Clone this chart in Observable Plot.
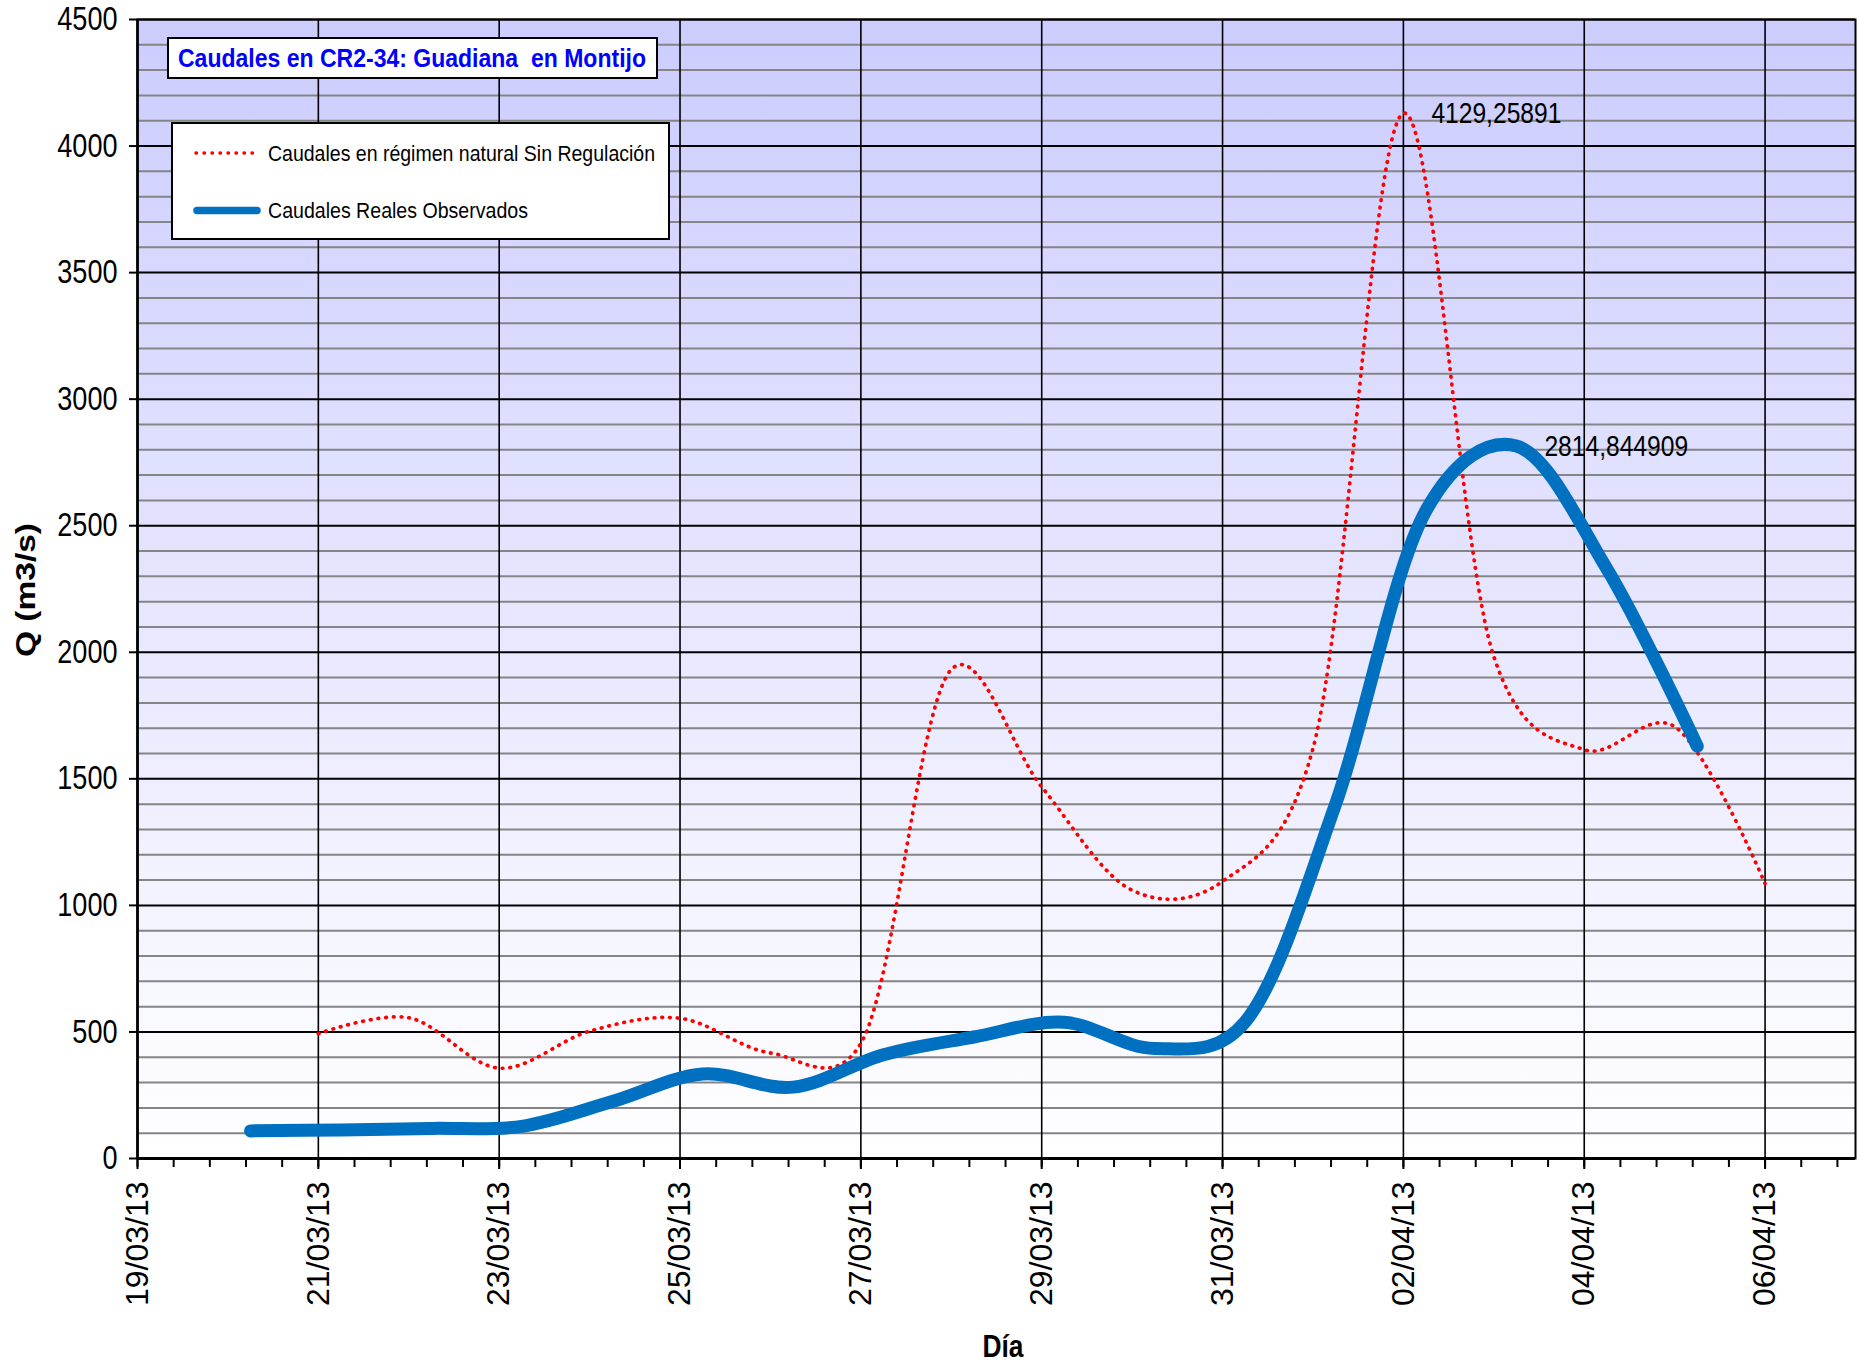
<!DOCTYPE html>
<html>
<head>
<meta charset="utf-8">
<script src="https://cdn.jsdelivr.net/npm/d3@7"></script>
<script src="https://cdn.jsdelivr.net/npm/@observablehq/plot@0.6"></script>
<style>
html, body { margin: 0; padding: 0; background: #ffffff; }
#chart { width: 1865px; height: 1369px; }
</style>
</head>
<body>
<div id="chart"></div>
<script>
// ---------------- DATA ----------------
const chartTitle = "Caudales en CR2-34: Guadiana  en Montijo";
const seriesNames = ["Caudales en régimen natural Sin Regulación", "Caudales Reales Observados"];
const yAxisTitle = "Q (m3/s)";
const xAxisTitle = "Día";

// Natural regime flows (daily, 00:00)
const naturalDays = [
  "2013-03-21T00:00", "2013-03-22T00:00", "2013-03-23T00:00", "2013-03-24T00:00",
  "2013-03-25T00:00", "2013-03-26T00:00", "2013-03-27T00:00", "2013-03-28T00:00",
  "2013-03-29T00:00", "2013-03-30T00:00", "2013-03-31T00:00", "2013-04-01T00:00",
  "2013-04-02T00:00", "2013-04-03T00:00", "2013-04-04T00:00", "2013-04-05T00:00",
  "2013-04-06T00:00"
];
const naturalQ = [493, 556, 357, 503, 554, 417, 455, 1932, 1468, 1060, 1095, 1620, 4129.25891, 1983, 1615, 1706, 1086];

// Observed flows (daily, 06:00)
const observedDays = [
  "2013-03-20T06:00", "2013-03-21T06:00", "2013-03-22T06:00", "2013-03-23T06:00",
  "2013-03-24T06:00", "2013-03-25T06:00", "2013-03-26T06:00", "2013-03-27T06:00",
  "2013-03-28T06:00", "2013-03-29T06:00", "2013-03-30T06:00", "2013-03-31T06:00",
  "2013-04-01T06:00", "2013-04-02T06:00", "2013-04-03T06:00", "2013-04-04T06:00",
  "2013-04-05T06:00"
];
const observedQ = [109, 113, 119, 127, 225, 334, 282, 410, 480, 538, 435, 540, 1400, 2560, 2814.844909, 2330, 1629];

// Axis ticks
const xDomain = ["2013-03-19T00:00", "2013-04-07T00:00"];
const xTickDays = [
  "2013-03-19T00:00", "2013-03-21T00:00", "2013-03-23T00:00", "2013-03-25T00:00",
  "2013-03-27T00:00", "2013-03-29T00:00", "2013-03-31T00:00", "2013-04-02T00:00",
  "2013-04-04T00:00", "2013-04-06T00:00"
];
const xMinorStepDays = 0.4;
const yTicks = [0, 500, 1000, 1500, 2000, 2500, 3000, 3500, 4000, 4500];
const yMinorStep = 100;

// ---------------- BUILD ----------------
const toDate = s => new Date(s + ":00Z");
const natural = naturalDays.map((d, i) => ({date: toDate(d), q: naturalQ[i]}));
const observed = observedDays.map((d, i) => ({date: toDate(d), q: observedQ[i]}));
const x0 = toDate(xDomain[0]), x1 = toDate(xDomain[1]);
const xTicks = xTickDays.map(toDate);
const xMinor = d3.range(0, (x1 - x0) / 864e5, xMinorStepDays).map(k => new Date(+x0 + k * 864e5));
const yMinor = d3.range(0, 4500 + 1, yMinorStep).filter(v => v % 500 !== 0);
const fmtDate = d3.utcFormat("%d/%m/%y");
const fmtComma = v => String(v).replace(".", ",");
const peaks = [
  natural.reduce((a, b) => (b.q > a.q ? b : a)),
  observed.reduce((a, b) => (b.q > a.q ? b : a))
];

const SANS = '"Liberation Sans", Arial, sans-serif';
const CURVE = "catmull-rom";
const TENSION = 0.15;

const svg = Plot.plot({
  width: 1865,
  height: 1369,
  marginLeft: 137,
  marginRight: 10,
  marginTop: 19,
  marginBottom: 211,
  style: {fontFamily: SANS, background: "transparent", overflow: "visible"},
  x: {type: "utc", domain: [x0, x1]},
  y: {domain: [0, 4500]},
  marks: [
    Plot.frame({fill: "url(#bgGrad)", stroke: "none"}),
    Plot.ruleY(yMinor, {stroke: "#858585", strokeWidth: 2}),
    Plot.ruleY(yTicks, {stroke: "#000000", strokeWidth: 2}),
    Plot.ruleX(xTicks, {stroke: "#000000", strokeWidth: 1.6}),
    Plot.frame({stroke: "#000000", strokeWidth: 2, fill: "none"}),
    Plot.ruleY([0], {stroke: "#000000", strokeWidth: 3}),
    Plot.ruleX([x0], {stroke: "#000000", strokeWidth: 2.5}),
    Plot.axisY({ticks: yTicks, tickSize: 8, tickPadding: 12, strokeWidth: 2,
      tickFormat: d3.format("d"), fontSize: 33, label: null}),
    Plot.axisX({ticks: xMinor, tickSize: 9, strokeWidth: 2, tickFormat: () => "", label: null}),
    Plot.axisX({ticks: xTicks, tickSize: 11, tickPadding: 12, strokeWidth: 2, tickRotate: -90,
      tickFormat: fmtDate, fontSize: 32, label: null}),
    Plot.line(natural, {x: "date", y: "q", stroke: "#FF0000", strokeWidth: 3.7,
      strokeDasharray: "0.7,7", strokeLinecap: "round", curve: CURVE, tension: TENSION}),
    Plot.line(observed, {x: "date", y: "q", stroke: "#0070C0", strokeWidth: 13,
      strokeLinecap: "round", strokeLinejoin: "round", curve: CURVE, tension: TENSION}),
    Plot.text(peaks, {x: "date", y: "q", text: d => fmtComma(d.q), dx: 28, textAnchor: "start",
      lineAnchor: "middle", fontSize: 30, fill: "#000000"})
  ]
});

const s = d3.select(svg);
const defs = s.insert("defs", ":first-child");
const grad = defs.append("linearGradient").attr("id", "bgGrad")
  .attr("x1", 0).attr("y1", 0).attr("x2", 0).attr("y2", 1);
grad.append("stop").attr("offset", 0).attr("stop-color", "#CCCCFF");
grad.append("stop").attr("offset", 1).attr("stop-color", "#FFFFFF");

const deco = s.append("g").attr("font-family", SANS).attr("text-anchor", "start");
// Title box
deco.append("rect").attr("x", 168).attr("y", 38).attr("width", 489).attr("height", 40)
  .attr("fill", "#ffffff").attr("stroke", "#000000").attr("stroke-width", 2);
deco.append("text").attr("x", 178).attr("y", 67).attr("text-anchor", "start")
  .attr("font-weight", "bold").attr("font-size", 26).style("white-space", "pre")
  .attr("fill", "#0000FF").attr("textLength", 468).attr("lengthAdjust", "spacingAndGlyphs")
  .text(chartTitle);
// Legend box
deco.append("rect").attr("x", 172).attr("y", 123).attr("width", 497).attr("height", 116)
  .attr("fill", "#ffffff").attr("stroke", "#000000").attr("stroke-width", 2);
deco.append("line").attr("x1", 196).attr("x2", 260).attr("y1", 153).attr("y2", 153)
  .attr("stroke", "#FF0000").attr("stroke-width", 3.5).attr("stroke-linecap", "round")
  .attr("stroke-dasharray", "0.5,7.5");
deco.append("text").attr("x", 268).attr("y", 161).attr("text-anchor", "start")
  .attr("font-size", 22).attr("fill", "#000000").attr("textLength", 387)
  .attr("lengthAdjust", "spacingAndGlyphs").text(seriesNames[0]);
deco.append("line").attr("x1", 197).attr("x2", 257).attr("y1", 210.5).attr("y2", 210.5)
  .attr("stroke", "#0070C0").attr("stroke-width", 7.5).attr("stroke-linecap", "round");
deco.append("text").attr("x", 268).attr("y", 218).attr("text-anchor", "start")
  .attr("font-size", 22).attr("fill", "#000000").attr("textLength", 260)
  .attr("lengthAdjust", "spacingAndGlyphs").text(seriesNames[1]);
// Axis titles
deco.append("text").attr("transform", "translate(35,590) rotate(-90)").attr("text-anchor", "middle")
  .attr("font-weight", "bold").attr("font-size", 27)
  .attr("fill", "#000000").attr("textLength", 134).attr("lengthAdjust", "spacingAndGlyphs")
  .text(yAxisTitle);
deco.append("text").attr("x", 1003).attr("y", 1357).attr("text-anchor", "middle")
  .attr("font-weight", "bold").attr("font-size", 32).attr("fill", "#000000")
  .attr("textLength", 41).attr("lengthAdjust", "spacingAndGlyphs").text(xAxisTitle);

document.getElementById("chart").appendChild(svg);

// Condense (Arial Narrow look) the y tick labels and the value labels
function condense(sel, k) {
  sel.each(function () {
    const w = this.getComputedTextLength();
    if (w > 0) {
      this.setAttribute("textLength", (w * k).toFixed(2));
      this.setAttribute("lengthAdjust", "spacingAndGlyphs");
    }
  });
}
condense(s.selectAll('g[aria-label="y-axis tick label"] text'), 0.82);
condense(s.selectAll('g[aria-label="text"] text'), 0.82);
</script>
</body>
</html>
